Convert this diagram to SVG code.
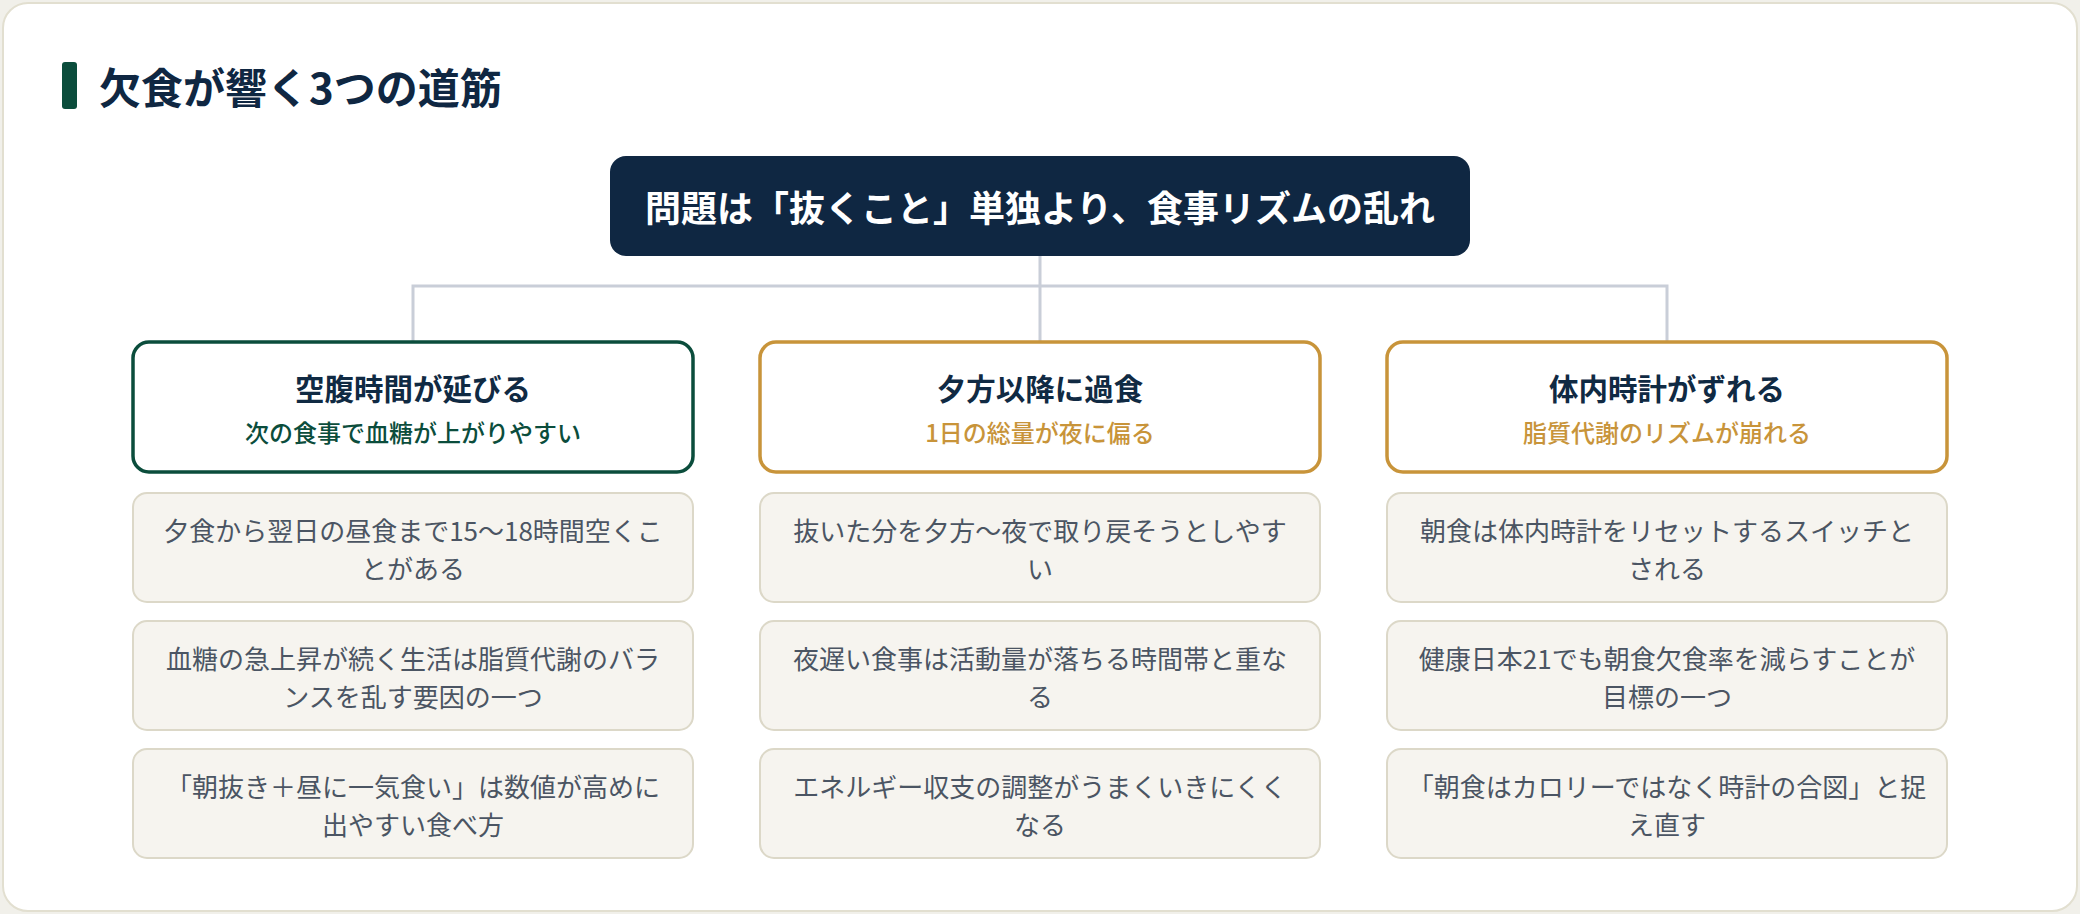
<svg xmlns="http://www.w3.org/2000/svg" width="2080" height="914" viewBox="0 0 2080 914">
<style>
text{font-family:"Noto Sans CJK JP","Noto Sans CJK SC",sans-serif;}
.title{font-size:42px;font-weight:700;fill:#0f2742;}
.root-t{font-size:36px;font-weight:700;fill:#ffffff;text-anchor:middle;}
.card{fill:#ffffff;stroke-width:3.5;}
.green{stroke:#0b4d3c;}
.gold{stroke:#c8943a;}
.ct{font-size:29.5px;font-weight:700;fill:#102a43;text-anchor:middle;}
.cs{font-size:24px;font-weight:500;text-anchor:middle;}
.cs-g{fill:#0b4d3c;}
.cs-o{fill:#c8943a;}
.det{fill:#f6f4ef;stroke:#dcd8c8;stroke-width:2;}
.dt{font-size:26px;fill:#4b5563;text-anchor:middle;}
.conn{fill:none;stroke:#c9ced8;stroke-width:3;}
</style>
<rect x="0" y="0" width="2080" height="914" fill="#f1f0ea"/>
<rect x="3" y="3" width="2074" height="908" rx="25" fill="#ffffff" stroke="#e2dfd0" stroke-width="2"/>
<g id="heading">
<rect x="62" y="62" width="15" height="47" rx="3" fill="#0b4d3c"/>
<text class="title" x="99" y="104">欠食が響く3つの道筋</text>
</g>
<g id="connectors">
<path class="conn" d="M1040,256 V286 M413,286 H1667 M413,284.5 V342 M1040,286 V342 M1667,284.5 V342"/>
</g>
<g id="root">
<rect x="610" y="156" width="860" height="100" rx="16" fill="#0f2742"/>
<text class="root-t" x="1040" y="222">問題は「抜くこと」単独より、食事リズムの乱れ</text>
</g>
<g id="cat1">
<rect class="card green" x="133" y="342" width="560" height="130" rx="16"/>
<text class="ct" x="413" y="400">空腹時間が延びる</text>
<text class="cs cs-g" x="413" y="442">次の食事で血糖が上がりやすい</text>
</g>
<g id="cat2">
<rect class="card gold" x="760" y="342" width="560" height="130" rx="16"/>
<text class="ct" x="1040" y="400">夕方以降に過食</text>
<text class="cs cs-o" x="1040" y="442">1日の総量が夜に偏る</text>
</g>
<g id="cat3">
<rect class="card gold" x="1387" y="342" width="560" height="130" rx="16"/>
<text class="ct" x="1667" y="400">体内時計がずれる</text>
<text class="cs cs-o" x="1667" y="442">脂質代謝のリズムが崩れる</text>
</g>
<g id="d1a">
<rect class="det" x="133" y="493" width="560" height="109" rx="14"/>
<text class="dt" x="413" y="541">夕食から翌日の昼食まで15〜18時間空くこ</text>
<text class="dt" x="413" y="579">とがある</text>
</g>
<g id="d1b">
<rect class="det" x="133" y="621" width="560" height="109" rx="14"/>
<text class="dt" x="413" y="669">血糖の急上昇が続く生活は脂質代謝のバラ</text>
<text class="dt" x="413" y="707">ンスを乱す要因の一つ</text>
</g>
<g id="d1c">
<rect class="det" x="133" y="749" width="560" height="109" rx="14"/>
<text class="dt" x="413" y="797">「朝抜き＋昼に一気食い」は数値が高めに</text>
<text class="dt" x="413" y="835">出やすい食べ方</text>
</g>
<g id="d2a">
<rect class="det" x="760" y="493" width="560" height="109" rx="14"/>
<text class="dt" x="1040" y="541">抜いた分を夕方〜夜で取り戻そうとしやす</text>
<text class="dt" x="1040" y="579">い</text>
</g>
<g id="d2b">
<rect class="det" x="760" y="621" width="560" height="109" rx="14"/>
<text class="dt" x="1040" y="669">夜遅い食事は活動量が落ちる時間帯と重な</text>
<text class="dt" x="1040" y="707">る</text>
</g>
<g id="d2c">
<rect class="det" x="760" y="749" width="560" height="109" rx="14"/>
<text class="dt" x="1040" y="797">エネルギー収支の調整がうまくいきにくく</text>
<text class="dt" x="1040" y="835">なる</text>
</g>
<g id="d3a">
<rect class="det" x="1387" y="493" width="560" height="109" rx="14"/>
<text class="dt" x="1667" y="541">朝食は体内時計をリセットするスイッチと</text>
<text class="dt" x="1667" y="579">される</text>
</g>
<g id="d3b">
<rect class="det" x="1387" y="621" width="560" height="109" rx="14"/>
<text class="dt" x="1667" y="669">健康日本21でも朝食欠食率を減らすことが</text>
<text class="dt" x="1667" y="707">目標の一つ</text>
</g>
<g id="d3c">
<rect class="det" x="1387" y="749" width="560" height="109" rx="14"/>
<text class="dt" x="1667" y="797">「朝食はカロリーではなく時計の合図」と捉</text>
<text class="dt" x="1667" y="835">え直す</text>
</g>
</svg>
